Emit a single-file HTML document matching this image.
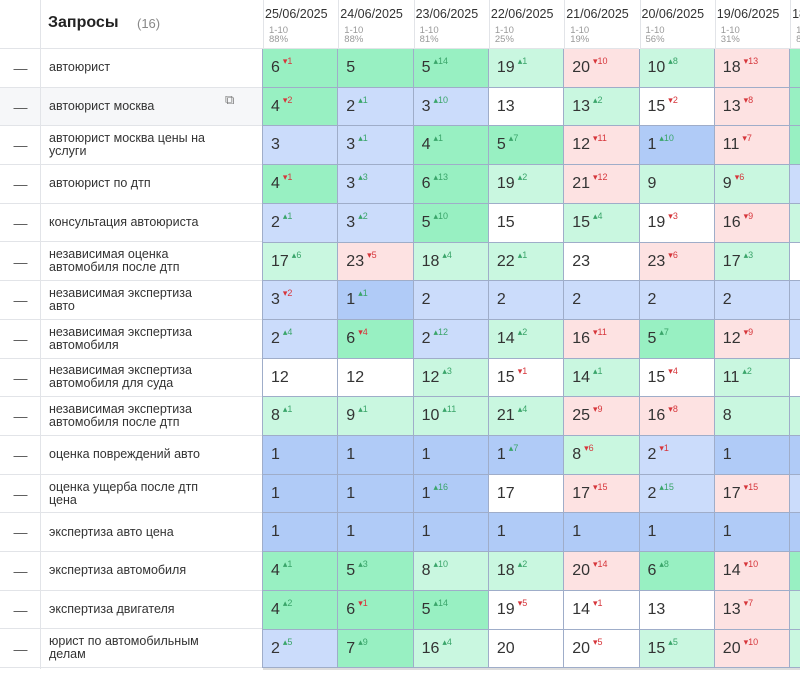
<!DOCTYPE html>
<html><head><meta charset="utf-8"><style>
body{margin:0;width:800px;height:678px;overflow:hidden;background:#fff;font-family:"Liberation Sans","DejaVu Sans",sans-serif;color:#333;position:relative}
#clip{position:absolute;left:0;top:0;width:800px;height:678px;overflow:hidden}
.a{position:absolute;box-sizing:border-box}
.cell{font-size:16px;padding-left:8px;line-height:38px;white-space:nowrap}
.cell sup{font-size:9px;vertical-align:0;position:relative;top:-8px;margin-left:3px}
.up{color:#3aa56a}.dn{color:#d6363b}
.q{font-size:12.5px;line-height:13px;color:#333;display:flex;align-items:center;padding-left:8px;border-bottom:1px solid #e2e4e8;border-left:1px solid #e2e4e8}
.dash{border-bottom:1px solid #e2e4e8;color:#555;text-align:center;font-size:14px}
.vl{width:1px;background:#9fadc9}.hl{height:1px;background:#9fadc9}
</style></head><body><div id="clip">
<div class="a" style="left:0;top:0;width:263px;height:49px;border-bottom:1px solid #e2e4e8"></div>
<div class="a" style="left:40px;top:0;width:1px;height:669px;background:#e2e4e8"></div>
<div class="a" style="left:48px;top:14px;font-size:16px;font-weight:bold;color:#222">Запросы</div>
<div class="a" style="left:137px;top:16px;font-size:13px;color:#888">(16)</div>
<div id="root"></div>
<div class="a" style="left:263px;top:668px;width:537px;height:2px;background:#ddd"></div>
</div>
<script>
const dates=["25/06/2025","24/06/2025","23/06/2025","22/06/2025","21/06/2025","20/06/2025","19/06/2025","18/06/2025"];
const pct=["88%","88%","81%","25%","19%","56%","31%","8"];
const queries=[["автоюрист"],["автоюрист москва"],["автоюрист москва цены на","услуги"],["автоюрист по дтп"],["консультация автоюриста"],["независимая оценка","автомобиля после дтп"],["независимая экспертиза","авто"],["независимая экспертиза","автомобиля"],["независимая экспертиза","автомобиля для суда"],["независимая экспертиза","автомобиля после дтп"],["оценка повреждений авто"],["оценка ущерба после дтп","цена"],["экспертиза авто цена"],["экспертиза автомобиля"],["экспертиза двигателя"],["юрист по автомобильным","делам"]];
const positions=[[6,5,5,19,20,10,18,""],[4,2,3,13,13,15,13,""],[3,3,4,5,12,1,11,""],[4,3,6,19,21,9,9,""],[2,3,5,15,15,19,16,""],[17,23,18,22,23,23,17,""],[3,1,2,2,2,2,2,""],[2,6,2,14,16,5,12,""],[12,12,12,15,14,15,11,""],[8,9,10,21,25,16,8,""],[1,1,1,1,8,2,1,""],[1,1,1,17,17,2,17,""],[1,1,1,1,1,1,1,""],[4,5,8,18,20,6,14,""],[4,6,5,19,14,13,13,""],[2,7,16,20,20,15,20,""]];
const changes=[[-1,0,14,1,-10,8,-13,0],[-2,1,10,0,2,-2,-8,0],[0,1,1,7,-11,10,-7,0],[-1,3,13,2,-12,0,-6,0],[1,2,10,0,4,-3,-9,0],[6,-5,4,1,0,-6,3,0],[-2,1,0,0,0,0,0,0],[4,-4,12,2,-11,7,-9,0],[0,0,3,-1,1,-4,2,0],[1,1,11,4,-9,-8,0,0],[0,0,0,7,-6,-1,0,0],[0,0,16,0,-15,15,-15,0],[0,0,0,0,0,0,0,0],[1,3,10,2,-14,8,-10,0],[2,-1,14,-5,-1,0,-7,0],[5,9,4,0,-5,5,-10,0]];
const colors=["GGGgrgrG","GbbwgwrG","bbGGrBrG","GbGgrggb","bbGwgwrg","grggwrgw","bBbbbbbb","bGbgrGrb","wwgwgwgw","ggggrrgg","BBBBgbBB","BBBwrbrb","BBBBBBBB","GGggrGrG","GGGwwwrg","bGgwwgrg"];
const pal={g:"#c9f7e0",G:"#98f0c2",b:"#cbdcfb",B:"#b0cbf7",r:"#fde2e2",w:"#ffffff"};
const root=document.getElementById('root');
const X0=263,CW=75.3,Y0=49,RH=38.7;
dates.forEach((d,i)=>{
 const h=document.createElement('div');h.className='a';
 
 
 h.style.cssText=`left:${X0+i*CW}px;top:0;width:${CW}px;height:${Y0}px;border-left:1px solid #e2e4e8;border-bottom:1px solid #e2e4e8;padding-left:1px`;
 h.innerHTML=`<div style="font-size:12.5px;margin-top:7px;color:#333;white-space:nowrap">${d}</div><div style="font-size:9.5px;color:#999;line-height:9px;margin:5px 0 0 4px">1-10<br>${pct[i]}</div>`;
 root.appendChild(h);
});
queries.forEach((q,r)=>{
 const y=Y0+r*RH;
 const ds=document.createElement('div');ds.className='a dash';
 
 
 ds.style.cssText=`left:0;top:${y}px;width:41px;height:${RH}px;line-height:${RH}px;${r==1?'background:#f6f7f9':''}`;
 ds.textContent='—';root.appendChild(ds);
 const qd=document.createElement('div');qd.className='a q';
 
 
 qd.style.cssText=`left:40px;top:${y}px;width:223px;height:${RH}px;${r==1?'background:#f6f7f9':''}`;
 qd.innerHTML=q.join('<br>')+(r==1?'<span style="position:absolute;left:184px;top:5px;color:#777;font-size:13px">⧉</span>':'');
 root.appendChild(qd);
 positions[r].forEach((p,c)=>{
  const ce=document.createElement('div');ce.className='a cell';
  
  
  ce.style.cssText=`left:${X0+c*CW}px;top:${y}px;width:${CW+1}px;height:${RH+1}px;background:${pal[colors[r][c]]}`;
  const ch=changes[r][c];
  let s='';
  if(ch>0)s=`<sup class="up">▴${ch}</sup>`;else if(ch<0)s=`<sup class="dn">▾${-ch}</sup>`;
  ce.innerHTML=p+(p!==""?s:'');
  root.appendChild(ce);
 });
});
for(let c=0;c<=8;c++){
 const v=document.createElement('div');v.className='a vl';
 
 
 v.style.cssText=`left:${Math.round(X0+c*CW)-1}px;top:${Y0}px;height:${16*RH}px`;
 root.appendChild(v);
}
for(let r=1;r<=16;r++){
 const h=document.createElement('div');h.className='a hl';
 
 
 h.style.cssText=`left:${X0}px;top:${Math.round(Y0+r*RH)-1}px;width:${800-X0}px`;
 root.appendChild(h);
}
</script>
</body></html>
